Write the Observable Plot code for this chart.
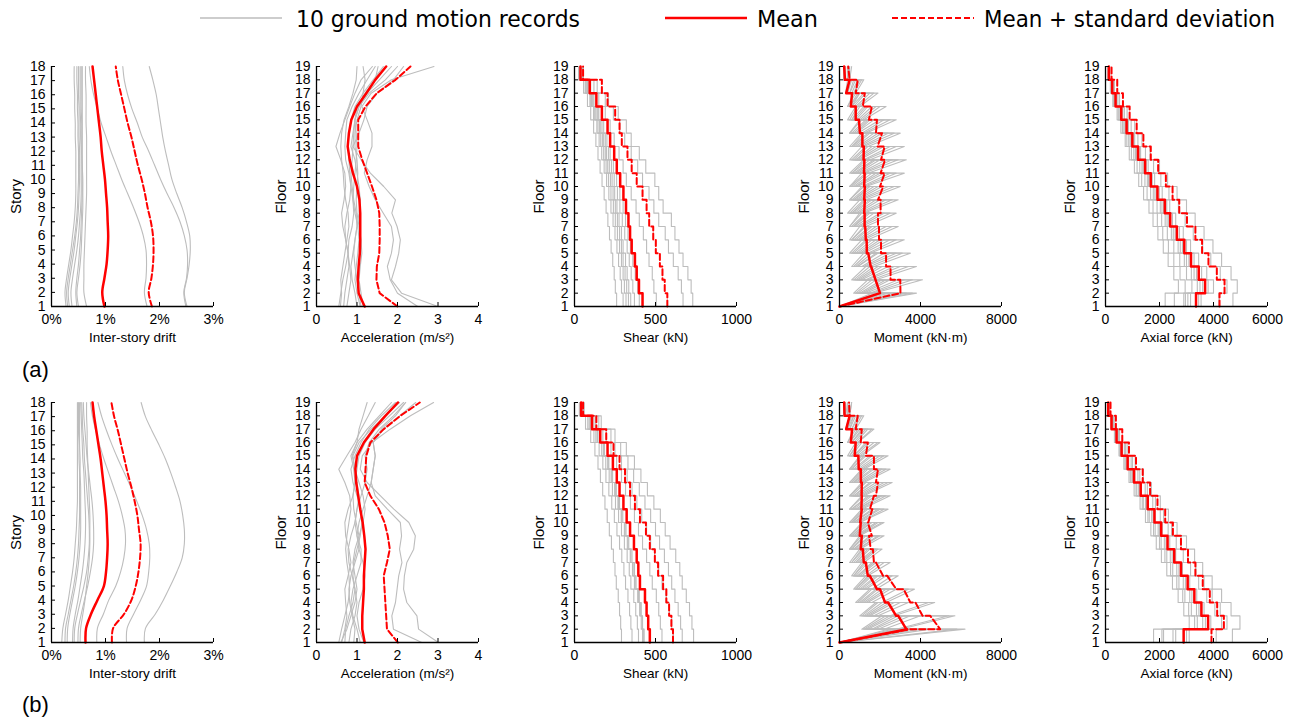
<!DOCTYPE html>
<html><head><meta charset="utf-8">
<script src="https://cdn.jsdelivr.net/npm/d3@7"></script>
<script src="https://cdn.jsdelivr.net/npm/@observablehq/plot@0.6"></script>
<style>
body{margin:0;background:#fff;}
#chart{position:relative;width:1293px;height:722px;overflow:hidden;background:#fff;font-family:"Liberation Sans",Arial,sans-serif;color:#000;}
.tag{position:absolute;left:22px;font-size:22px;line-height:26px;}
</style></head><body><div id="chart"></div>
<script>
// ---------- categories & ticks ----------
const stories = [1,2,3,4,5,6,7,8,9,10,11,12,13,14,15,16,17,18];
const floors = [1,2,3,4,5,6,7,8,9,10,11,12,13,14,15,16,17,18,19];
const driftTicks = [0,1,2,3];
const accTicks = [0,1,2,3,4];
const shearTicks = [0,500,1000];
const momentTicks = [0,4000,8000];
const axialTicks = [0,2000,4000,6000];
const xTitles = ["Inter-story drift","Acceleration (m/s²)","Shear (kN)","Moment (kN·m)","Axial force (kN)"];
const yTitles = ["Story","Floor","Floor","Floor","Floor"];
const rowTags = ["(a)","(b)"];
const legendLabels = ["10 ground motion records","Mean","Mean + standard deviation"];

// ---------- (a) inter-story drift (%), stories 1..18 ----------
const driftA_mean = [0.98,0.94,0.98,1.02,1.04,1.05,1.04,1.03,1.01,0.99,0.96,0.93,0.91,0.88,0.85,0.82,0.79,0.76];
const driftA_msd = [1.86,1.80,1.85,1.88,1.89,1.88,1.84,1.78,1.73,1.67,1.60,1.54,1.48,1.41,1.35,1.29,1.23,1.19];
const driftA_records = [
[2.51,2.46,2.51,2.55,2.57,2.56,2.50,2.42,2.32,2.23,2.17,2.11,2.06,2.02,1.98,1.94,1.88,1.81],
[2.49,2.45,2.50,2.52,2.51,2.46,2.38,2.27,2.14,2.02,1.91,1.80,1.68,1.59,1.49,1.41,1.35,1.32],
[1.77,1.72,1.75,1.76,1.75,1.70,1.62,1.52,1.41,1.30,1.20,1.10,1.01,0.92,0.85,0.78,0.73,0.70],
[0.65,0.60,0.60,0.60,0.61,0.62,0.63,0.64,0.65,0.65,0.65,0.65,0.65,0.64,0.64,0.64,0.63,0.63],
[0.50,0.47,0.50,0.53,0.55,0.56,0.57,0.58,0.58,0.58,0.57,0.57,0.57,0.57,0.57,0.57,0.57,0.57],
[0.47,0.45,0.47,0.50,0.52,0.54,0.55,0.56,0.57,0.57,0.57,0.56,0.56,0.56,0.55,0.55,0.55,0.55],
[0.38,0.36,0.39,0.43,0.47,0.50,0.52,0.54,0.55,0.55,0.55,0.55,0.54,0.54,0.53,0.53,0.53,0.53],
[0.33,0.31,0.34,0.38,0.42,0.45,0.48,0.50,0.51,0.52,0.52,0.52,0.51,0.51,0.51,0.50,0.50,0.50],
[0.27,0.25,0.28,0.32,0.36,0.39,0.42,0.44,0.45,0.45,0.45,0.45,0.44,0.44,0.43,0.43,0.42,0.42],
[0.30,0.28,0.31,0.35,0.39,0.43,0.46,0.48,0.49,0.50,0.50,0.50,0.49,0.49,0.48,0.48,0.47,0.47]];

// ---------- (b) inter-story drift (%) ----------
const driftB_mean = [0.63,0.64,0.73,0.85,0.97,1.01,1.03,1.04,1.03,1.02,1.00,0.97,0.94,0.91,0.87,0.83,0.79,0.76];
const driftB_msd = [1.12,1.14,1.34,1.48,1.56,1.61,1.64,1.65,1.62,1.59,1.54,1.48,1.41,1.35,1.29,1.23,1.16,1.11];
const driftB_records = [
[1.72,1.74,1.92,2.07,2.20,2.32,2.42,2.46,2.46,2.43,2.38,2.30,2.21,2.11,1.99,1.86,1.74,1.66],
[1.39,1.40,1.52,1.65,1.76,1.80,1.82,1.81,1.76,1.68,1.58,1.47,1.35,1.23,1.12,1.02,0.93,0.86],
[0.84,0.85,0.96,1.06,1.19,1.28,1.34,1.37,1.36,1.31,1.24,1.15,1.06,0.97,0.89,0.82,0.76,0.72],
[0.19,0.21,0.26,0.31,0.35,0.39,0.42,0.44,0.46,0.47,0.48,0.48,0.48,0.48,0.48,0.48,0.48,0.48],
[0.25,0.26,0.31,0.36,0.41,0.45,0.48,0.50,0.51,0.52,0.52,0.52,0.52,0.51,0.51,0.50,0.50,0.50],
[0.29,0.30,0.34,0.39,0.44,0.48,0.51,0.53,0.54,0.54,0.54,0.54,0.53,0.53,0.52,0.52,0.52,0.52],
[0.39,0.40,0.44,0.49,0.53,0.57,0.60,0.62,0.63,0.63,0.62,0.61,0.60,0.58,0.57,0.56,0.55,0.54],
[0.42,0.43,0.48,0.54,0.60,0.65,0.68,0.70,0.70,0.69,0.67,0.65,0.63,0.61,0.60,0.58,0.57,0.56],
[0.49,0.50,0.55,0.61,0.67,0.72,0.76,0.78,0.78,0.77,0.75,0.72,0.69,0.66,0.64,0.62,0.60,0.59],
[0.53,0.54,0.58,0.62,0.65,0.68,0.70,0.71,0.71,0.71,0.70,0.69,0.68,0.67,0.66,0.66,0.65,0.65]];

// ---------- (a) acceleration (m/s2), floors 1..19 ----------
const accA_mean = [1.19,1.04,1.02,1.04,1.07,1.08,1.08,1.08,1.06,1.00,0.90,0.82,0.77,0.80,0.86,1.00,1.23,1.45,1.72];
const accA_msd = [2.00,1.56,1.48,1.49,1.55,1.56,1.56,1.55,1.48,1.37,1.25,1.13,1.03,1.03,1.03,1.21,1.49,1.95,2.32];
const accA_records = [
[3.00,2.10,1.85,1.95,2.03,2.07,1.99,1.86,1.95,1.66,1.33,1.10,0.90,1.05,1.17,1.25,1.50,1.90,2.15],
[2.50,2.00,1.82,1.75,1.85,1.90,1.85,1.65,1.45,1.30,1.18,1.25,1.37,1.37,1.25,1.12,1.35,1.85,2.90],
[0.55,0.60,0.65,0.72,0.78,0.72,0.65,0.62,0.68,0.72,0.70,0.60,0.48,0.58,0.70,0.82,0.95,1.10,1.38],
[0.59,0.62,0.60,0.65,0.70,0.75,0.80,0.78,0.72,0.68,0.66,0.62,0.60,0.62,0.68,0.80,0.90,0.98,1.00],
[0.67,0.70,0.75,0.80,0.78,0.72,0.70,0.75,0.82,0.85,0.80,0.72,0.70,0.72,0.75,0.88,1.05,1.25,1.45],
[0.75,0.80,0.85,0.82,0.78,0.80,0.88,0.92,0.90,0.85,0.82,0.80,0.78,0.80,0.85,0.95,1.15,1.40,1.65],
[1.00,0.95,0.88,0.85,0.90,0.95,1.00,0.98,0.92,0.88,0.85,0.88,0.90,0.92,0.95,1.05,1.25,1.55,1.85],
[1.08,1.00,0.95,0.98,1.02,1.05,1.02,0.95,0.90,0.92,0.95,0.98,1.00,0.98,0.95,1.00,1.20,1.45,1.52],
[1.10,1.05,1.00,0.95,0.92,0.95,1.00,1.05,1.08,1.05,1.00,0.95,0.85,0.90,0.95,1.05,1.30,1.70,2.00],
[1.15,1.10,1.05,1.08,1.12,1.10,1.05,1.00,0.98,1.00,1.02,1.00,0.95,0.95,1.00,1.10,1.15,1.20,1.15]];

// ---------- (b) acceleration ----------
const accB_mean = [1.19,1.13,1.13,1.15,1.17,1.17,1.19,1.21,1.18,1.14,1.08,1.03,0.98,0.96,1.00,1.17,1.41,1.70,2.01];
const accB_msd = [2.01,1.74,1.72,1.70,1.68,1.66,1.74,1.81,1.76,1.68,1.54,1.33,1.19,1.21,1.23,1.33,1.66,2.07,2.55];
const accB_records = [
[3.01,2.52,2.48,2.23,2.15,2.17,2.23,2.40,2.44,2.28,1.91,1.58,1.25,1.08,1.13,1.37,1.82,2.32,2.89],
[2.60,1.90,1.86,1.95,1.99,2.03,2.11,2.05,2.10,2.07,1.75,1.45,1.35,1.40,1.45,1.40,1.60,1.95,2.20],
[0.55,0.62,0.70,0.78,0.82,0.80,0.75,0.72,0.75,0.80,0.85,0.82,0.70,0.55,0.75,0.95,1.10,1.28,1.45],
[0.62,0.70,0.75,0.72,0.70,0.78,0.85,0.80,0.72,0.70,0.78,0.90,0.95,0.92,0.85,1.00,1.25,1.55,1.85],
[0.70,0.72,0.80,0.90,0.95,0.88,0.80,0.78,0.85,0.95,1.00,1.05,1.00,0.95,0.90,1.05,1.35,1.70,2.05],
[0.92,0.95,0.88,0.82,0.80,0.85,0.95,1.05,1.05,0.98,0.92,0.90,0.95,1.00,1.05,1.20,1.45,1.80,2.15],
[1.08,1.00,0.90,0.85,0.90,1.00,1.10,1.10,1.00,0.95,1.00,1.10,1.20,1.25,1.20,1.30,1.55,1.90,2.20],
[1.17,1.05,1.00,1.05,1.15,1.20,1.15,1.05,1.00,1.05,1.15,1.25,1.35,1.40,1.45,1.40,1.65,2.05,2.45],
[0.60,0.75,0.85,0.95,1.00,0.95,0.90,0.95,1.05,1.15,1.20,1.15,1.05,0.95,0.88,1.00,1.05,1.15,1.25],
[0.80,0.85,0.95,1.00,0.95,0.90,0.92,1.00,1.08,1.12,1.10,1.00,0.90,0.85,0.95,1.10,1.30,1.60,1.95]];

// ---------- (a) shear (kN), stories 1..18 ----------
const shearA_mean = [420,398,384,373,353,343,333,318,302,282,261,245,220,204,169,135,94,37];
const shearA_msd = [573,557,543,527,502,486,461,445,420,384,353,327,292,278,251,204,169,53];
const shearA_records = [
[730,720,700,670,645,620,598,547,520,496,440,400,350,320,270,210,140,55],
[670,660,640,610,580,560,520,490,460,420,390,350,310,280,240,190,120,50],
[505,490,480,460,445,425,400,380,350,320,300,275,245,220,190,150,100,45],
[400,390,375,360,345,330,315,300,280,260,240,220,200,180,150,120,85,40],
[370,360,350,338,325,310,295,280,265,245,228,210,190,170,145,115,80,38],
[347,335,325,315,300,290,275,262,248,232,215,198,180,162,140,110,78,35],
[333,322,312,300,290,278,265,252,238,222,205,190,172,155,132,105,72,33],
[318,308,300,290,278,265,252,240,225,210,195,180,162,145,125,100,70,32],
[300,290,282,272,262,250,238,225,212,198,183,168,152,138,118,95,66,30],
[260,252,245,236,226,216,206,195,183,170,158,145,132,118,100,80,56,25]];

// ---------- (b) shear ----------
const shearB_mean = [465,455,445,435,404,394,384,367,343,322,302,278,261,237,204,159,108,41];
const shearB_msd = [608,598,584,567,547,516,496,465,441,404,373,343,312,278,241,196,135,53];
const shearB_records = [
[735,725,710,690,665,650,625,590,560,530,490,450,410,370,320,250,165,60],
[665,655,640,620,600,580,555,525,500,470,435,400,365,330,285,225,150,55],
[610,600,585,565,540,520,495,470,445,415,385,355,325,290,250,195,130,50],
[540,530,520,505,480,465,445,420,395,370,345,315,290,260,225,175,120,45],
[430,420,412,400,380,370,355,335,318,298,278,258,235,212,185,145,100,40],
[425,418,408,395,375,362,348,330,312,292,272,252,230,208,180,142,98,40],
[420,412,402,390,370,358,344,326,308,288,268,248,226,205,178,140,96,38],
[395,388,378,366,348,338,325,308,290,272,253,234,214,193,168,132,90,36],
[355,348,340,330,315,305,292,278,262,246,230,212,194,175,152,120,82,34],
[290,285,278,270,258,250,240,228,215,202,188,174,160,145,126,100,68,30]];

// ---------- (a) moment (kN·m): top = value arriving at floors 1..19, bot = value leaving floors 2..18 ----------
const momA_meanTop = [0,2000,1780,1560,1420,1340,1270,1240,1250,1250,1240,1230,1200,1130,960,800,620,500,230];
const momA_meanBot = [2000,1780,1540,1350,1300,1240,1220,1220,1220,1210,1190,1130,1010,800,560,330,270];
const momA_msdTop = [0,3010,3000,2520,2300,2050,1950,1900,2030,2160,2230,2250,2230,2100,1850,1600,1250,900,430];
const momA_msdBot = [3010,2520,2300,2050,1950,1900,2030,1900,2000,2030,2050,1880,1800,1450,1150,800,500];
const momA_recTop = [
[0,3800,4100,3800,3500,3200,2900,2800,2900,3000,3200,3300,3200,3000,2800,2300,1900,1200,600],
[0,3600,3600,3400,3100,2800,2600,2500,2600,2700,2800,2900,2800,2700,2500,2000,1700,1100,500],
[0,3300,3200,3000,2800,2500,2300,2200,2300,2400,2500,2600,2500,2400,2200,1800,1500,1000,500],
[0,3000,2900,2700,2500,2200,2000,2000,2000,2100,2200,2300,2200,2100,2000,1600,1300,900,400],
[0,2700,2500,2400,2200,2000,1800,1700,1800,1900,2000,2000,2000,1900,1700,1400,1200,800,400],
[0,2400,2300,2100,1900,1800,1600,1500,1600,1700,1800,1800,1800,1700,1500,1300,1000,700,300],
[0,2200,2100,1900,1800,1600,1500,1400,1500,1500,1600,1700,1600,1500,1400,1200,1000,600,300],
[0,2000,1800,1700,1600,1400,1300,1300,1300,1400,1400,1500,1400,1400,1300,1000,900,500,300],
[0,1800,1600,1500,1400,1300,1200,1100,1200,1200,1300,1300,1300,1200,1100,900,800,500,200],
[0,1600,1400,1300,1200,1100,1000,1000,1000,1100,1100,1200,1100,1100,1000,800,700,400,200]];
const momA_recBot = [
[1700,1800,1700,1500,1400,1300,1200,1300,1300,1400,1500,1400,1300,1200,1000,800,500],
[1600,1600,1500,1400,1200,1100,1100,1100,1200,1200,1300,1200,1200,1100,900,700,500],
[1500,1400,1300,1200,1100,1000,1000,1000,1100,1100,1200,1100,1100,1000,800,700,400],
[1300,1300,1200,1100,1000,900,900,900,900,1000,1000,1000,900,900,700,600,400],
[1200,1100,1100,1000,900,800,800,800,800,900,900,900,800,800,600,500,400],
[1100,1000,900,900,800,700,700,700,800,800,800,800,800,700,600,500,300],
[1000,900,900,800,700,700,600,700,700,700,800,700,700,600,500,400,300],
[900,800,800,700,600,600,600,600,600,600,700,600,600,600,500,400,200],
[800,700,700,600,600,500,500,500,500,600,600,600,500,500,400,400,200],
[700,600,600,500,500,500,400,500,500,500,500,500,500,400,400,300,200]];

// ---------- (b) moment ----------
const momB_meanTop = [0,3340,2900,2400,2000,1500,1300,1150,1100,1050,1100,1100,1100,1050,930,800,620,500,230];
const momB_meanBot = [3300,2800,2250,1850,1400,1200,1050,1000,1020,1080,1090,1060,950,750,560,330,250];
const momB_msdTop = [0,3500,4480,3750,3170,2360,1800,1650,1460,1400,1620,1700,1900,1900,1700,1400,1100,900,470];
const momB_msdBot = [4970,4100,3500,2800,2150,1700,1540,1600,1420,1500,1800,1800,1700,1300,1050,800,500];
const momB_recTop = [
[0,6200,5700,4700,3700,2900,2500,2100,2200,2200,2400,2500,2600,2500,2400,2000,1700,1200,600],
[0,5800,5400,4400,3400,2600,2200,1900,2000,2100,2200,2300,2400,2300,2200,1900,1600,1100,600],
[0,4500,4000,3400,2800,2300,2000,1800,1900,1900,2000,2100,2200,2100,2000,1700,1400,1000,500],
[0,4000,3500,3000,2500,2100,1800,1700,1700,1800,1900,2000,2000,1900,1800,1500,1300,900,500],
[0,3600,3200,2700,2300,1900,1700,1500,1600,1600,1700,1800,1800,1700,1600,1400,1200,800,400],
[0,3300,2900,2500,2100,1800,1600,1400,1500,1500,1600,1600,1600,1600,1500,1300,1100,700,400],
[0,3000,2700,2300,1900,1600,1400,1300,1300,1400,1400,1500,1500,1400,1300,1100,1000,700,300],
[0,2800,2500,2100,1800,1500,1300,1200,1200,1300,1300,1400,1300,1300,1200,1000,900,600,300],
[0,2600,2300,1900,1600,1400,1200,1100,1100,1200,1200,1200,1200,1200,1100,900,800,500,300],
[0,2400,2100,1800,1500,1300,1100,1000,1000,1100,1100,1100,1100,1100,1000,800,700,500,200]];
const momB_recBot = [
[3000,2700,2300,1800,1400,1200,1000,1000,1000,1100,1200,1200,1200,1100,900,800,500],
[2800,2500,2100,1600,1300,1100,900,900,1000,1000,1100,1100,1100,1000,900,700,500],
[2200,1900,1600,1300,1100,1000,900,900,900,900,1000,1000,1000,900,800,600,400],
[1900,1700,1400,1200,1000,900,800,800,800,900,900,900,900,800,700,600,400],
[1700,1500,1300,1100,900,800,700,700,700,800,800,800,800,700,600,500,400],
[1600,1400,1200,1000,900,800,700,700,700,700,700,700,700,700,600,500,300],
[1400,1300,1100,900,800,700,600,600,600,600,700,700,600,600,500,400,300],
[1300,1200,1000,800,700,600,600,600,600,600,600,600,600,500,500,400,300],
[1200,1100,900,800,700,600,500,500,500,500,500,500,500,500,400,400,200],
[1100,1000,800,700,600,500,500,500,500,500,500,500,500,400,400,300,200]];

// ---------- (a) axial force (kN), stories 1..18 ----------
const axialA_mean = [3353,3689,3453,3167,2919,2645,2397,2198,1925,1677,1466,1205,994,782,584,373,248,124];
const axialA_msd = [4223,4409,4123,3813,3577,3329,3018,2732,2484,2236,1950,1677,1403,1155,894,646,435,224];
const axialA_records = [
[4720,4880,4650,4300,3980,3650,3320,3000,2650,2300,2000,1650,1350,1080,800,520,330,160],
[4200,4500,4250,3900,3600,3250,2950,2700,2350,2050,1780,1480,1200,950,700,460,300,150],
[3540,4000,3750,3450,3150,2880,2600,2380,2100,1820,1580,1300,1080,850,640,420,280,140],
[3450,3800,3560,3280,3000,2740,2480,2270,1990,1730,1510,1250,1030,810,600,390,250,120],
[3150,3600,3370,3090,2850,2580,2340,2150,1880,1640,1430,1180,970,760,570,360,240,120],
[3050,3500,3280,3000,2770,2510,2280,2090,1830,1590,1390,1140,940,740,550,350,230,120],
[2960,3400,3180,2920,2690,2440,2210,2030,1770,1550,1350,1110,910,720,540,340,230,110],
[2900,3200,3000,2750,2530,2290,2080,1910,1670,1460,1270,1050,860,680,500,320,210,110],
[2550,2950,2760,2530,2330,2120,1920,1760,1540,1340,1170,960,790,630,470,300,200,100],
[2210,2700,2530,2320,2140,1940,1760,1610,1410,1230,1070,880,730,570,430,270,180,90]];

// ---------- (b) axial force ----------
const axialB_mean = [2894,3800,3552,3291,3043,2795,2546,2298,2062,1813,1565,1304,1056,820,596,410,224,100];
const axialB_msd = [3925,4384,4136,3863,3602,3329,3055,2795,2496,2211,1925,1652,1379,1130,869,621,385,186];
const axialB_records = [
[4700,4980,4650,4300,3950,3600,3300,3000,2650,2330,2030,1700,1400,1100,800,520,320,150],
[4100,4500,4250,3950,3650,3350,3050,2800,2450,2150,1850,1550,1270,1000,740,480,300,140],
[3100,4300,4050,3750,3450,3150,2880,2620,2320,2030,1750,1470,1200,950,700,460,280,130],
[2900,3900,3650,3380,3120,2850,2600,2380,2100,1840,1590,1330,1090,860,630,410,260,120],
[2600,3800,3550,3290,3040,2790,2540,2300,2060,1810,1560,1300,1060,830,610,400,250,120],
[2500,3700,3460,3200,2960,2720,2470,2240,2000,1760,1520,1270,1030,810,590,390,240,110],
[2150,3600,3370,3120,2880,2640,2400,2180,1950,1710,1480,1230,1000,790,580,380,230,110],
[2090,3400,3180,2940,2720,2490,2270,2060,1840,1620,1400,1160,950,750,550,360,220,100],
[1780,3100,2900,2690,2480,2270,2070,1880,1680,1480,1280,1060,870,680,500,330,200,100],
[3000,3300,3080,2860,2640,2410,2200,2000,1780,1570,1360,1130,920,720,530,350,210,100]];

// ---------- helpers: build tables from the arrays ----------
const GRAY = "#bdbdbd", RED = "#ff0000";
const FONT = "'Liberation Sans', Arial, sans-serif";
function smoothPts(vals, levels) { return vals.map((v, i) => ({x: v, y: levels[i]})); }
function stepPts(vals) {
  const p = vals.map((v, i) => ({x: v, y: stories[i]}));
  p.push({x: vals[vals.length - 1], y: floors[floors.length - 1]});
  return p;
}
function momentPts(top, bot) {
  const p = [];
  top.forEach((v, i) => {
    p.push({x: v, y: floors[i]});
    if (i >= 1 && i <= bot.length) p.push({x: bot[i - 1], y: floors[i]});
  });
  return p;
}
function lineMarks(recPts, meanPts, msdPts, curve) {
  const rows = recPts.flatMap((pts, j) => pts.map(d => ({...d, s: j})));
  return [
    Plot.line(rows, {x: "x", y: "y", z: "s", stroke: GRAY, strokeWidth: 1.1, curve}),
    Plot.line(msdPts, {x: "x", y: "y", stroke: RED, strokeWidth: 2, strokeDasharray: "6,3", curve}),
    Plot.line(meanPts, {x: "x", y: "y", stroke: RED, strokeWidth: 2.5, curve})
  ];
}
function rowPanels(dRec, dMean, dMsd, aRec, aMean, aMsd, sRec, sMean, sMsd, mTop, mBot, mMeanTop, mMeanBot, mMsdTop, mMsdBot, xRec, xMean, xMsd) {
  return [
    {xDomain: [0, 3], xTicks: driftTicks, fmt: d => d + "%", yDomain: [1, 18], yTicks: stories,
     marks: lineMarks(dRec.map(v => smoothPts(v, stories)), smoothPts(dMean, stories), smoothPts(dMsd, stories), "catmull-rom")},
    {xDomain: [0, 4], xTicks: accTicks, fmt: d => String(d), yDomain: [1, 19], yTicks: floors,
     marks: lineMarks(aRec.map(v => smoothPts(v, floors)), smoothPts(aMean, floors), smoothPts(aMsd, floors), "linear")},
    {xDomain: [0, 1000], xTicks: shearTicks, fmt: d => String(d), yDomain: [1, 19], yTicks: floors,
     marks: lineMarks(sRec.map(stepPts), stepPts(sMean), stepPts(sMsd), "step-before")},
    {xDomain: [0, 8000], xTicks: momentTicks, fmt: d => String(d), yDomain: [1, 19], yTicks: floors,
     marks: lineMarks(mTop.map((t, j) => momentPts(t, mBot[j])), momentPts(mMeanTop, mMeanBot), momentPts(mMsdTop, mMsdBot), "linear")},
    {xDomain: [0, 6000], xTicks: axialTicks, fmt: d => String(d), yDomain: [1, 19], yTicks: floors,
     marks: lineMarks(xRec.map(stepPts), stepPts(xMean), stepPts(xMsd), "step-before")}
  ];
}
const rows = [
  rowPanels(driftA_records, driftA_mean, driftA_msd, accA_records, accA_mean, accA_msd, shearA_records, shearA_mean, shearA_msd,
            momA_recTop, momA_recBot, momA_meanTop, momA_meanBot, momA_msdTop, momA_msdBot, axialA_records, axialA_mean, axialA_msd),
  rowPanels(driftB_records, driftB_mean, driftB_msd, accB_records, accB_mean, accB_msd, shearB_records, shearB_mean, shearB_msd,
            momB_recTop, momB_recBot, momB_meanTop, momB_meanBot, momB_msdTop, momB_msdBot, axialB_records, axialB_mean, axialB_msd)
];

// ---------- layout ----------
const chart = document.getElementById("chart");
const colX = [51, 316, 574, 839, 1105];
const rowTop = [66, 402];
const ML = 50, MR = 22, MT = 8, MB = 42, PW = 162, PH = 240;

rows.forEach((panels, r) => {
  panels.forEach((p, c) => {
    const svg = Plot.plot({
      width: ML + PW + MR, height: MT + PH + MB,
      marginLeft: ML, marginRight: MR, marginTop: MT, marginBottom: MB,
      style: {fontFamily: FONT, fontSize: "14px", background: "transparent", color: "#000", overflow: "visible"},
      x: {domain: p.xDomain, label: null},
      y: {domain: p.yDomain, label: null},
      marks: [
        ...p.marks,
        Plot.ruleY([p.yDomain[0]], {stroke: "#000", strokeWidth: 1.3}),
        Plot.ruleX([0], {stroke: "#000", strokeWidth: 1.3}),
        Plot.axisX(p.xTicks, {tickSize: -4, tickPadding: 12, tickFormat: p.fmt, fontSize: 14, label: null, stroke: "#000"}),
        Plot.axisY(p.yTicks, {tickSize: -4, tickPadding: 10, tickFormat: d => String(d), fontSize: 14, label: null, stroke: "#000"}),
        Plot.text([xTitles[c]], {frameAnchor: "bottom", text: d => d, dy: 31, lineAnchor: "middle", textAnchor: "middle", fontSize: 13.5}),
        Plot.text([yTitles[c]], {frameAnchor: "left", text: d => d, rotate: -90, dx: -35, dy: 10, textAnchor: "middle", lineAnchor: "middle", fontSize: 15})
      ]
    });
    svg.style.position = "absolute";
    svg.style.left = (colX[c] - ML) + "px";
    svg.style.top = (rowTop[r] - MT) + "px";
    svg.style.maxWidth = "none";
    chart.appendChild(svg);
  });
  const tag = document.createElement("div");
  tag.className = "tag";
  tag.textContent = rowTags[r];
  tag.style.top = (r === 0 ? 357 : 692) + "px";
  chart.appendChild(tag);
});

// ---------- legend ----------
const NS = "http://www.w3.org/2000/svg";
const leg = document.createElementNS(NS, "svg");
leg.setAttribute("width", 1293); leg.setAttribute("height", 40);
leg.style.position = "absolute"; leg.style.left = "0px"; leg.style.top = "0px";
const legItems = [
  {x1: 200, x2: 282, stroke: GRAY, w: 1.5, dash: null, tx: 296, tl: 284},
  {x1: 665, x2: 747, stroke: RED, w: 2.5, dash: null, tx: 757, tl: 61},
  {x1: 892, x2: 974, stroke: RED, w: 2, dash: "6,3", tx: 984, tl: 291}
];
legItems.forEach((it, i) => {
  const ln = document.createElementNS(NS, "line");
  ln.setAttribute("x1", it.x1); ln.setAttribute("x2", it.x2);
  ln.setAttribute("y1", 18); ln.setAttribute("y2", 18);
  ln.setAttribute("stroke", it.stroke); ln.setAttribute("stroke-width", it.w);
  if (it.dash) ln.setAttribute("stroke-dasharray", it.dash);
  leg.appendChild(ln);
  const t = document.createElementNS(NS, "text");
  t.setAttribute("x", it.tx); t.setAttribute("y", 27);
  t.setAttribute("font-size", 23);
  t.setAttribute("font-family", "'DejaVu Sans Condensed', 'DejaVu Sans', sans-serif");
  t.setAttribute("font-stretch", "condensed");
  t.setAttribute("textLength", it.tl);
  t.setAttribute("lengthAdjust", "spacingAndGlyphs");
  t.textContent = legendLabels[i];
  leg.appendChild(t);
});
chart.appendChild(leg);
</script></body></html>
